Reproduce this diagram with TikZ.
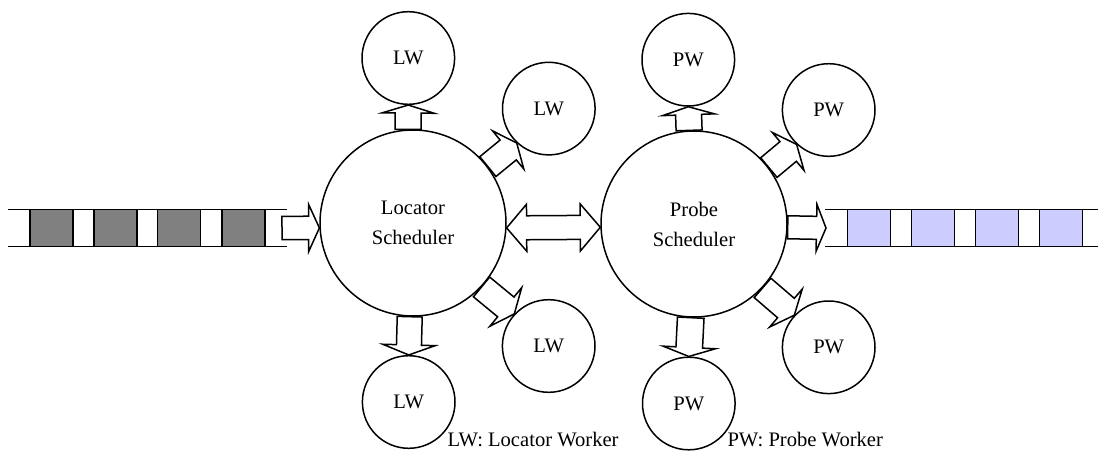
\documentclass[tikz,border=0pt]{standalone}
\usepackage{fontspec}
\setmainfont{Liberation Serif}
\usetikzlibrary{calc}
\definecolor{slotgray}{HTML}{808080}
\definecolor{slotblue}{HTML}{CCCCFF}
\tikzset{
  sched/.style={circle, draw, line width=1.5pt, minimum size=186pt, inner sep=0pt,
    align=center, font=\fontsize{20.6}{30}\selectfont},
  worker/.style={circle, draw, line width=1.5pt, minimum size=92.6pt, inner sep=0pt,
    font=\fontsize{20.6}{24}\selectfont},
  slot/.style={draw, line width=1.4pt, minimum width=43pt, minimum height=37pt, inner sep=0pt},
  rail/.style={line width=1.4pt},
  blk/.style={draw, fill=white, line width=1.5pt, line join=miter},
  legend/.style={anchor=base west, inner sep=0pt, font=\fontsize{20.6}{24}\selectfont}
}
% block arrow: start, tip, half shaft width, half head width, head length
\newcommand\blockarrow[5]{%
  \coordinate (ba-s) at #1;
  \coordinate (ba-e) at #2;
  \coordinate (ba-h) at ($(ba-e)!#5!(ba-s)$);
  \draw[blk] ($(ba-s)!#3!90:(ba-e)$) -- ($(ba-h)!#3!90:(ba-e)$)
    -- ($(ba-h)!#4!90:(ba-e)$) -- (ba-e) -- ($(ba-h)!#4!-90:(ba-e)$)
    -- ($(ba-h)!#3!-90:(ba-e)$) -- ($(ba-s)!#3!-90:(ba-e)$) -- cycle;
}
% two-headed block arrow: tip a, tip b, half shaft width, half head width, head length
\newcommand\dblarrow[5]{%
  \coordinate (da-a) at #1;
  \coordinate (da-b) at #2;
  \coordinate (da-ha) at ($(da-a)!#5!(da-b)$);
  \coordinate (da-hb) at ($(da-b)!#5!(da-a)$);
  \draw[blk] (da-a) -- ($(da-ha)!#4!90:(da-b)$) -- ($(da-ha)!#3!90:(da-b)$)
    -- ($(da-hb)!#3!-90:(da-a)$) -- ($(da-hb)!#4!-90:(da-a)$) -- (da-b)
    -- ($(da-hb)!#4!90:(da-a)$) -- ($(da-hb)!#3!90:(da-a)$)
    -- ($(da-ha)!#3!-90:(da-b)$) -- ($(da-ha)!#4!-90:(da-b)$) -- cycle;
}
\begin{document}
\begin{tikzpicture}[x=1pt, y=-1pt]
\useasboundingbox (0,0) rectangle (1098,450);

% incoming queue
\draw[rail] (8,209.7) -- (286.7,209.7);
\draw[rail] (8,246.7) -- (286.7,246.7);
\foreach \i/\x in {1/51.5, 2/115.3, 3/179.2, 4/243.3}
  \node[slot, fill=slotgray] (q\i) at (\x,228.2) {};

% outgoing queue
\draw[rail] (825,209.3) -- (1098,209.3);
\draw[rail] (825,246.7) -- (1098,246.7);
\foreach \i/\x in {1/868.7, 2/933, 3/997, 4/1061}
  \node[slot, fill=slotblue] (r\i) at (\x,228) {};

% schedulers
\node[sched] (L) at (413,223) {Locator\\Scheduler};
\node[sched] (P) at (694,224) {Probe\\Scheduler};

% locator workers
\node[worker] (lw1) at (408.3,58)    {LW};
\node[worker] (lw2) at (548.8,108.6) {LW};
\node[worker] (lw3) at (408.7,402)   {LW};
\node[worker] (lw4) at (548.7,346)   {LW};

% probe workers
\node[worker] (pw1) at (688.3,59.7)  {PW};
\node[worker] (pw2) at (828.7,110)   {PW};
\node[worker] (pw3) at (688.8,403.5) {PW};
\node[worker] (pw4) at (828.7,347.3) {PW};

% queue ends
\coordinate (qin)  at (282,228);
\coordinate (qout) at (826,228);

% flow arrows
\blockarrow{(qin)}{(L.183)}{11.7pt}{23.5pt}{10.7pt}
\blockarrow{(P.-2.5)}{(qout)}{11.5pt}{23.5pt}{9.5pt}
\dblarrow{(L.-3)}{(P.182.5)}{12pt}{23.5pt}{20pt}

\blockarrow{(L.93.4)}{(lw1.south)}{13pt}{26pt}{8pt}
\blockarrow{(L.37)}{(lw2.227)}{12.8pt}{24.7pt}{11pt}
\blockarrow{(L.-92.3)}{(lw3.north)}{12.5pt}{26.2pt}{10pt}
\blockarrow{(L.-43)}{(lw4.137)}{12.8pt}{25pt}{11pt}

\blockarrow{(P.93.8)}{(pw1.south)}{13pt}{26pt}{8pt}
\blockarrow{(P.37)}{(pw2.227)}{12.8pt}{24.7pt}{11pt}
\blockarrow{(P.-92.9)}{(pw3.north)}{13.3pt}{26.2pt}{9pt}
\blockarrow{(P.-43)}{(pw4.137)}{12.8pt}{25pt}{11pt}

% legend
\node[legend] (lgL) at (447.3,446.7) {LW: Locator Worker};
\node[legend] (lgP) at (727.3,446.7) {PW: Probe Worker};
\end{tikzpicture}
\end{document}
